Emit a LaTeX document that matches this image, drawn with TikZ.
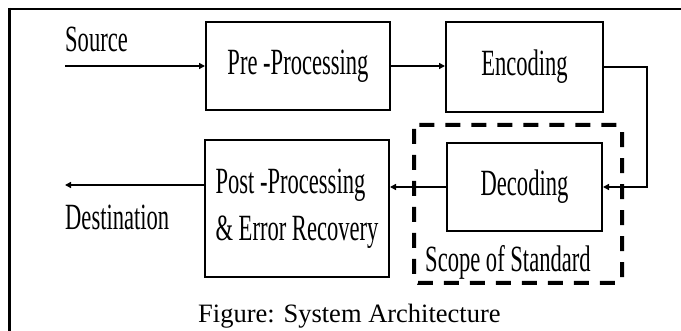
\documentclass[tikz,border=0pt]{standalone}
\usepackage{fontspec}
\setmainfont{Liberation Serif}
\newfontfamily\condfont[FakeStretch=0.61]{Liberation Serif}
\usetikzlibrary{arrows.meta}
\begin{document}
\begin{tikzpicture}[x=1pt,y=-1pt,
  blockbox/.style={draw,line width=2pt,inner sep=0pt,font=\condfont\fontsize{37}{47}\selectfont},
  lbl/.style={anchor=base west,inner sep=0pt,font=\condfont\fontsize{37}{47}\selectfont},
  conn/.style={line width=2.3pt,-{Triangle[length=6pt,width=6pt]}},
  scope/.style={line width=4pt,dash pattern=on 15pt off 11pt,rounded corners=4pt}]
\useasboundingbox (0,0) rectangle (681,331);
% frame
\draw[line width=2.5pt] (8,9.25) -- (681,9.25);
\draw[line width=2.5pt] (9.25,8) -- (9.25,331);
% blocks
\node[blockbox,minimum width=184pt,minimum height=88pt] (pre) at (298,66) {Pre -Processing};
\node[blockbox,minimum width=157pt,minimum height=90pt] (enc) at (524.5,67) {Encoding};
\node[blockbox,minimum width=155pt,minimum height=88pt] (dec) at (524.5,187) {Decoding};
\node[blockbox,minimum width=184pt,minimum height=137pt,align=left] (post) at (297,208.5) {Post -Processing\\\& Error Recovery};
% scope of standard
\draw[scope] (414,125) rectangle (622,283);
\node[lbl] (scopelbl) at (425,272) {Scope of Standard};
% labels
\node[lbl] (src) at (65,52) {Source};
\node[lbl] (dst) at (65,230) {Destination};
\coordinate (srcstart) at (65,66);
\coordinate (dstend) at (65,185);
\coordinate (turn1) at (647,0);
% connectors
\draw[conn,line width=2.8pt] (srcstart) -- (srcstart -| pre.west);
\draw[conn] (pre.east) -- (pre.east -| enc.west);
\draw[conn] (enc.east) -- (enc.east -| turn1) -- (dec.east -| turn1) -- (dec.east);
\draw[conn] (dec.west) -- (dec.west -| post.east);
\draw[conn] (post.west |- dstend) -- (dstend);
% caption
\node[anchor=base west,inner sep=0pt,font=\fontsize{26.5}{30}\selectfont] (cap) at (198,323) {Figure: System Architecture};
\end{tikzpicture}
\end{document}
